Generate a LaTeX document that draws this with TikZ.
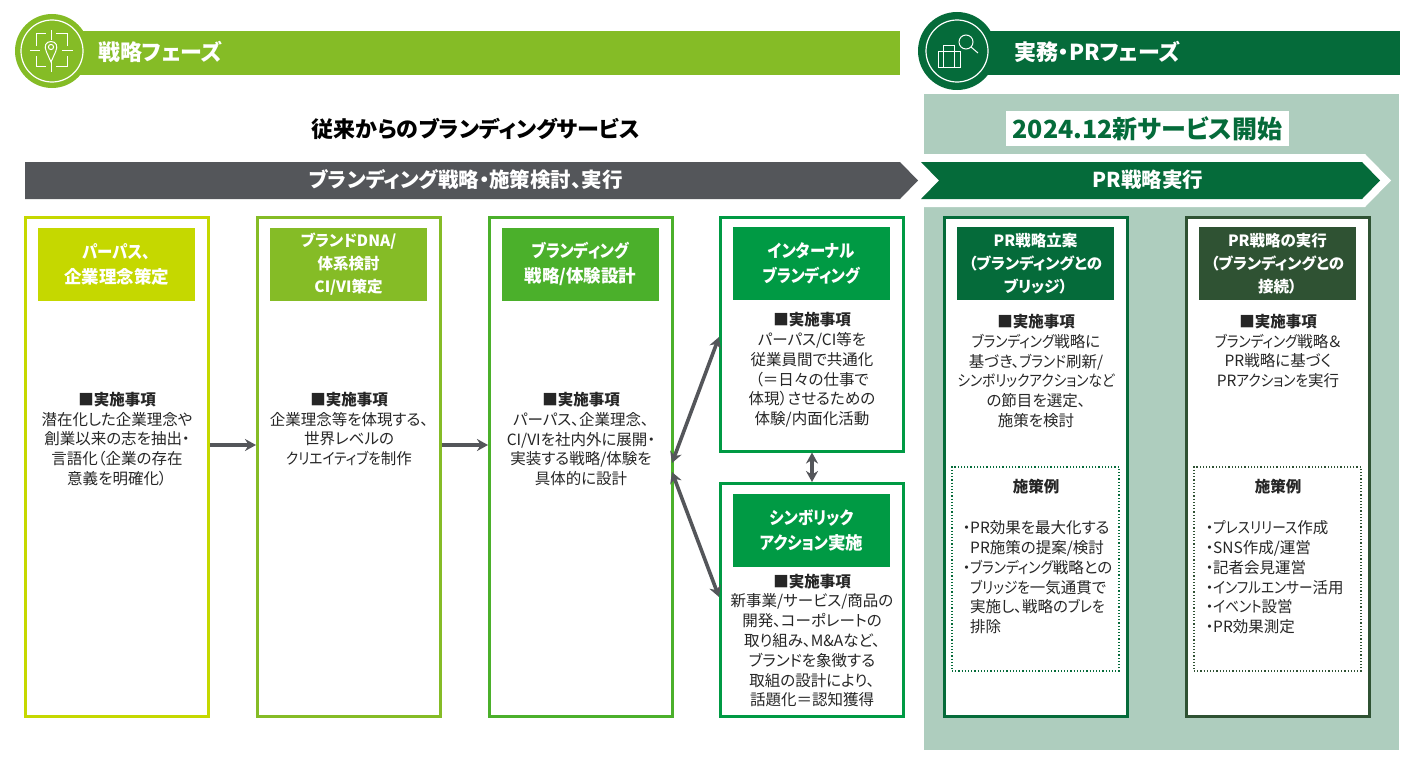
\documentclass[tikz,border=0pt]{standalone}
\usepackage{fontspec}
\setmainfont{Noto Sans CJK JP}[RawFeature={+palt}]
\newfontfamily\narrowface{Noto Sans CJK JP}[RawFeature={+palt},FakeStretch=0.88]
\usepackage{xcolor}
\usetikzlibrary{arrows.meta, calc}

\definecolor{limegreen}{HTML}{C5D800}
\definecolor{leafgreen}{HTML}{85BC26}
\definecolor{grassgreen}{HTML}{4BB02B}
\definecolor{brightgreen}{HTML}{009A44}
\definecolor{deepgreen}{HTML}{056B3A}
\definecolor{mossgreen}{HTML}{2F5233}
\definecolor{palegreen}{HTML}{AECDBE}
\definecolor{slategray}{HTML}{54565A}

\newcommand{\tick}{\makebox[7pt][c]{・}}
\newcommand{\hang}{\hspace*{7pt}}
\newcommand{\tight}[1]{{\narrowface #1}}

\begin{document}
\begin{tikzpicture}[
    x=1pt, y=-1pt,
    framebox/.style={rectangle, draw, fill=white, line width=3pt, minimum width=183pt},
    headbox/.style={rectangle, minimum width=157pt, minimum height=73pt, inner sep=0pt, align=center,
        text=white, font=\fontsize{15.5}{23}\selectfont\bfseries},
    headlarge/.style={headbox, font=\fontsize{17.5}{25}\selectfont\bfseries},
    bodytext/.style={inner sep=0pt, align=center, text=black!85, font=\fontsize{15.5}{19.8}\selectfont},
    listtext/.style={bodytext, align=left, anchor=north west},
    dotbox/.style={rectangle, draw, dotted, line width=1.2pt, fill=white, minimum width=167pt, minimum height=204pt},
    examplehead/.style={inner sep=0pt, font=\fontsize{15.5}{18}\selectfont\bfseries, text=black!85},
    phasetext/.style={inner sep=0pt, anchor=west, text=white, font=\fontsize{22}{24}\selectfont\bfseries},
    phasebar/.style={rectangle, minimum height=44pt, inner sep=0pt},
    ringline/.style={draw=white, line width=1.2pt},
    iconline/.style={draw=white, line width=1pt},
    bandtext/.style={inner sep=0pt, text=white, font=\fontsize{20.5}{22}\selectfont\bfseries},
    flow/.style={draw=slategray, line width=3.6pt, -{Stealth[length=11pt,width=12pt]}},
    flowboth/.style={draw=slategray, line width=3.6pt, {Stealth[length=11pt,width=12pt]}-{Stealth[length=11pt,width=12pt]}},
]
\useasboundingbox (0,0) rectangle (1423,776);

% Pale panel behind the PR phase
\fill[palegreen] (924,94) rectangle (1399,750);

% Phase bars with round badges
\node[phasebar, fill=leafgreen, minimum width=820pt] (strategybar) at (490,53) {};
\node[circle, fill=leafgreen, minimum size=74pt, inner sep=0pt] (strategybadge) at (52,51) {};
\draw[ringline] (strategybadge) circle (31);
\node[phasetext] (strategylabel) at (98,52) {戦略フェーズ};

\node[phasebar, fill=deepgreen, minimum width=420pt] (practicebar) at (1190,53) {};
\node[circle, fill=deepgreen, minimum size=78pt, inner sep=0pt] (practicebadge) at (957,51) {};
\draw[ringline] (practicebadge) circle (31);
\node[phasetext] (practicelabel) at (1014,52) {実務・PRフェーズ};

% Target icon
\draw[iconline] (36,46) -- (36,34) -- (46,34) (56,34) -- (67,34) -- (67,46)
    (67,56) -- (67,66) -- (56,66) (46,66) -- (36,66) -- (36,56);
\draw[iconline] (51,30) -- (51,40) (51,62) -- (51,72) (30,51) -- (40,51) (62,51) -- (73,51);
\draw[iconline] (51,62) -- (46.5,52) .. controls (43.5,46) and (46,41.5) .. (51,41.5)
    .. controls (56,41.5) and (58.5,46) .. (55.5,52) -- cycle;
\draw[iconline] (51,47) circle (2.6);

% Case and lens icon
\draw[iconline] (938,52) rectangle (960,67) (943.5,67) -- (943.5,46) -- (954.5,46) -- (954.5,67);
\draw[iconline] (966,42) circle (7) (971,47) -- (978,53);

% Section titles
\node[inner sep=0pt, font=\fontsize{22}{24}\selectfont\bfseries] (classictitle) at (476,129) {従来からのブランディングサービス};
\node[rectangle, fill=white, minimum width=283pt, minimum height=35pt, inner sep=0pt, text=deepgreen,
    font=\fontsize{25}{27}\selectfont\bfseries] (newtitle) at (1147.5,128.5) {2024.12新サービス開始};

% Bands
\fill[slategray] (25,162) -- (900,162) -- (918,180.5) -- (900,199) -- (25,199) -- cycle;
\node[bandtext] (classicband) at (466,180) {ブランディング戦略・施策検討、実行};
\fill[white] (924,154) -- (1365,154) -- (1391,180.5) -- (1365,207) -- (924,207) -- cycle;
\fill[deepgreen] (921,162) -- (1362,162) -- (1380,180.5) -- (1362,199) -- (921,199) -- (939,180.5) -- cycle;
\node[bandtext] (prband) at (1148,180) {PR戦略実行};

% Frames
\node[framebox, draw=limegreen, minimum height=499pt] (purpose) at (117,467) {};
\node[framebox, draw=leafgreen, minimum height=499pt] (identity) at (349,467) {};
\node[framebox, draw=grassgreen, minimum height=499pt] (design) at (581,467) {};
\node[framebox, draw=brightgreen, minimum height=234pt] (internal) at (812,334) {};
\node[framebox, draw=brightgreen, minimum height=233pt] (symbolic) at (812,600) {};
\node[framebox, draw=deepgreen, minimum height=499pt] (prplan) at (1036,467) {};
\node[framebox, draw=mossgreen, minimum height=499pt] (prrun) at (1278,467) {};

% Frame headers
\node[headlarge, fill=limegreen] (purposehead) at (116.5,264) {\tight{パーパス、}\\企業理念策定};
\node[headbox, fill=leafgreen] (identityhead) at (348.5,264) {ブランドDNA/\\体系検討\\CI/VI策定};
\node[headlarge, fill=grassgreen] (designhead) at (580.5,264) {\tight{ブランディング}\\戦略/体験設計};
\node[headlarge, fill=brightgreen] (internalhead) at (811.5,263.5) {\tight{インターナル}\\\tight{ブランディング}};
\node[headlarge, fill=brightgreen] (symbolichead) at (811.5,530.5) {\tight{シンボリック}\\\tight{アクション}実施};
\node[headbox, fill=deepgreen] (prplanhead) at (1035.5,263.5) {PR戦略立案\\（ブランディングとの\\ブリッジ）};
\node[headbox, fill=mossgreen] (prrunhead) at (1277.5,263.5) {PR戦略の実行\\（ブランディングとの\\接続）};

% Frame bodies
\node[bodytext] (purposebody) at (117,439) {\textbf{■実施事項}\\潜在化した企業理念や\\創業以来の志を抽出・\\言語化（企業の存在\\意義を明確化）};
\node[bodytext] (identitybody) at (349,429) {\textbf{■実施事項}\\企業理念等を体現する、\\世界レベルの\\\tight{クリエイティブを}制作};
\node[bodytext] (designbody) at (581,439) {\textbf{■実施事項}\\パーパス、企業理念、\\CI/VIを社内外に展開・\\実装する戦略/体験を\\具体的に設計};
\node[bodytext] (internalbody) at (812,370) {\textbf{■実施事項}\\パーパス/CI等を\\従業員間で共通化\\（＝日々の仕事で\\体現）させるための\\体験/内面化活動};
\node[bodytext] (symbolicbody) at (812,640.5) {\textbf{■実施事項}\\新事業/サービス/商品の\\開発、コーポレートの\\取り組み、M\&Aなど、\\ブランドを象徴する\\取組の設計により、\\話題化＝認知獲得};
\node[bodytext] (prplanbody) at (1036,371) {\textbf{■実施事項}\\\tight{ブランディング}戦略に\\基づき、\tight{ブランド}刷新/\\\tight{シンボリックアクションなど}\\の節目を選定、\\施策を検討};
\node[bodytext] (prrunbody) at (1278,351) {\textbf{■実施事項}\\\tight{ブランディング}戦略＆\\PR戦略に基づく\\PR\tight{アクションを}実行};

% Example boxes
\node[dotbox, draw=deepgreen] (planexamples) at (1035.5,569) {};
\node[examplehead] (planexhead) at (1036,487) {施策例};
\node[listtext] (planexlist) at (963,520.5) {\tick PR効果を最大化する\\\hang PR施策の提案/検討\\\tick \tight{ブランディング}戦略との\\\hang \tight{ブリッジを}一気通貫で\\\hang 実施し、戦略の\tight{ブレを}\\\hang 排除};
\node[dotbox, draw=mossgreen] (runexamples) at (1277.5,569) {};
\node[examplehead] (runexhead) at (1278,487) {施策例};
\node[listtext] (runexlist) at (1206,520.5) {\tick \tight{プレスリリース}作成\\\tick SNS作成/運営\\\tick 記者会見運営\\\tick \tight{インフルエンサー}活用\\\tick \tight{イベント}設営\\\tick PR効果測定};

% Connections between frames
\draw[flow] ([yshift=22pt]purpose.east) -- ([yshift=22pt]identity.west);
\draw[flow] ([yshift=22pt]identity.east) -- ([yshift=22pt]design.west);
\draw[flowboth] ([xshift=-2pt,yshift=4pt]design.east) -- ([yshift=-3pt]internal.west);
\draw[flowboth] ([xshift=-2pt,yshift=-5pt]design.east) -- ([yshift=3pt]symbolic.west);
\draw[flowboth] (internal.south) -- (symbolic.north);

\end{tikzpicture}
\end{document}
